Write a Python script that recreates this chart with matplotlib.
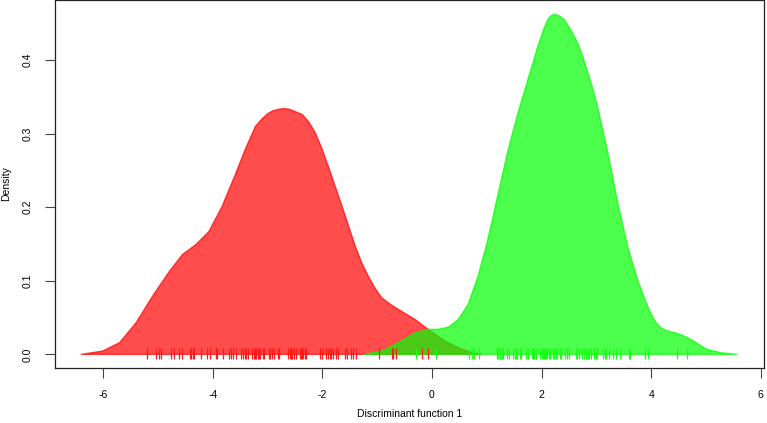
import matplotlib
matplotlib.use("Agg")
import matplotlib.pyplot as plt

# density curves (x, density)
red_x = [-6.40, -6.01, -5.70, -5.40, -5.10, -4.79, -4.55, -4.31, -4.07, -3.83,
         -3.58, -3.40, -3.22, -3.10, -3.00, -2.90, -2.80, -2.70, -2.60, -2.50,
         -2.37, -2.25, -2.13, -2.01, -1.89, -1.64, -1.40, -1.28, -1.16, -1.04,
         -0.92, -0.76, -0.61, -0.31, -0.07, 0.24, 0.48, 0.70, 0.90]
red_y = [0.0, 0.0045, 0.016, 0.043, 0.079, 0.113, 0.136, 0.149, 0.167, 0.201,
         0.246, 0.280, 0.310, 0.320, 0.327, 0.331, 0.333, 0.334, 0.333, 0.330,
         0.326, 0.316, 0.301, 0.280, 0.255, 0.201, 0.147, 0.124, 0.106, 0.090,
         0.077, 0.068, 0.061, 0.0475, 0.034, 0.018, 0.009, 0.003, 0.0]

green_x = [-1.23, -0.90, -0.61, -0.31, -0.07, 0.11, 0.30, 0.48, 0.66, 0.84,
           1.02, 1.21, 1.39, 1.57, 1.75, 1.93, 2.02, 2.11, 2.17, 2.24,
           2.32, 2.42, 2.54, 2.66, 2.75, 2.84, 2.93, 3.02, 3.21, 3.39,
           3.57, 3.75, 3.93, 4.02, 4.11, 4.20, 4.30, 4.54, 4.66, 4.78,
           4.90, 5.02, 5.27, 5.57]
green_y = [0.0, 0.005, 0.016, 0.029, 0.034, 0.034, 0.037, 0.0475, 0.068, 0.106,
           0.156, 0.219, 0.278, 0.328, 0.373, 0.418, 0.438, 0.4545, 0.460, 0.462,
           0.460, 0.4545, 0.440, 0.423, 0.405, 0.384, 0.362, 0.337, 0.274, 0.206,
           0.147, 0.102, 0.066, 0.052, 0.041, 0.035, 0.032, 0.027, 0.023, 0.018,
           0.012, 0.0068, 0.0023, 0.0]

# individual scores (rug)
red_rug = [-5.21, -5.04, -4.99, -4.94, -4.77, -4.71, -4.61, -4.57, -4.41, -4.39,
           -4.36, -4.35, -4.21, -4.10, -4.05, -3.95, -3.93, -3.81, -3.70, -3.67,
           -3.63, -3.58, -3.49, -3.45, -3.41, -3.39, -3.36, -3.28, -3.25, -3.23,
           -3.21, -3.18, -3.16, -3.13, -3.09, -3.06, -2.98, -2.95, -2.92, -2.89,
           -2.81, -2.79, -2.63, -2.60, -2.57, -2.55, -2.52, -2.48, -2.41, -2.39,
           -2.37, -2.35, -2.32, -2.30, -2.04, -2.01, -1.93, -1.90, -1.87, -1.84,
           -1.80, -1.76, -1.72, -1.58, -1.55, -1.47, -1.44, -1.39, -0.97, -0.73,
           -0.71, -0.65, -0.19, -0.07]
green_rug = [-0.30, 0.07, 0.68, 0.73, 0.76, 0.85, 1.18, 1.21, 1.24, 1.28,
             1.30, 1.37, 1.40, 1.48, 1.51, 1.53, 1.55, 1.60, 1.63, 1.72,
             1.75, 1.82, 1.84, 1.87, 1.90, 1.98, 2.00, 2.02, 2.04, 2.06,
             2.08, 2.10, 2.14, 2.16, 2.20, 2.22, 2.26, 2.29, 2.33, 2.36,
             2.43, 2.47, 2.50, 2.62, 2.65, 2.68, 2.73, 2.77, 2.81, 2.84,
             2.87, 2.90, 2.95, 3.00, 3.02, 3.13, 3.16, 3.18, 3.23, 3.30,
             3.36, 3.44, 3.59, 3.62, 3.89, 3.95, 4.47, 4.65]

x_ticks = [-6, -4, -2, 0, 2, 4, 6]
y_ticks = [0.0, 0.1, 0.2, 0.3, 0.4]

plt.rcParams['font.family'] = ['Liberation Sans', 'DejaVu Sans']

fig = plt.figure(figsize=(7.67, 4.23), dpi=100)
ax = fig.add_axes([55 / 767, 1 - 368 / 423, 709 / 767, 368 / 423])

# filled densities, red below green
ax.fill(red_x, red_y, facecolor=(1, 0, 0, 0.7), edgecolor=(1, 0, 0, 0.7),
        lw=1, joinstyle='round')
ax.fill(green_x, green_y, facecolor=(0, 1, 0, 0.7), edgecolor=(0, 1, 0, 0.7),
        lw=1, joinstyle='round')

# rug of individual scores
ax.vlines(red_rug, -0.0068, 0.0081, colors='#ff1a1a', lw=0.9)
ax.vlines(green_rug, -0.0068, 0.0081, colors='#1aff1a', lw=0.9)

ax.set_xlim(-6.88, 6.06)
ax.set_ylim(-0.0185, 0.4815)
ax.set_xticks(x_ticks)
ax.set_xticklabels([str(t) for t in x_ticks])
ax.set_yticks(y_ticks)
ax.set_yticklabels([f"{t:.1f}" for t in y_ticks], rotation=90, va='center')

ax.tick_params(axis='both', direction='out', length=7, width=0.8,
               color='#444444', labelsize=7.5, pad=9)
for sp in ax.spines.values():
    sp.set_linewidth(0.9)
    sp.set_color('#222222')

# axis titles placed like the R output
fig.text(409.5 / 767, 1 - 414 / 423, "Discriminant function 1",
         fontsize=7.5, ha='center', va='center')
fig.text(6 / 767, 1 - 184 / 423, "Density", fontsize=7.5,
         rotation=90, ha='center', va='center')

fig.savefig("out.png", dpi=100)
